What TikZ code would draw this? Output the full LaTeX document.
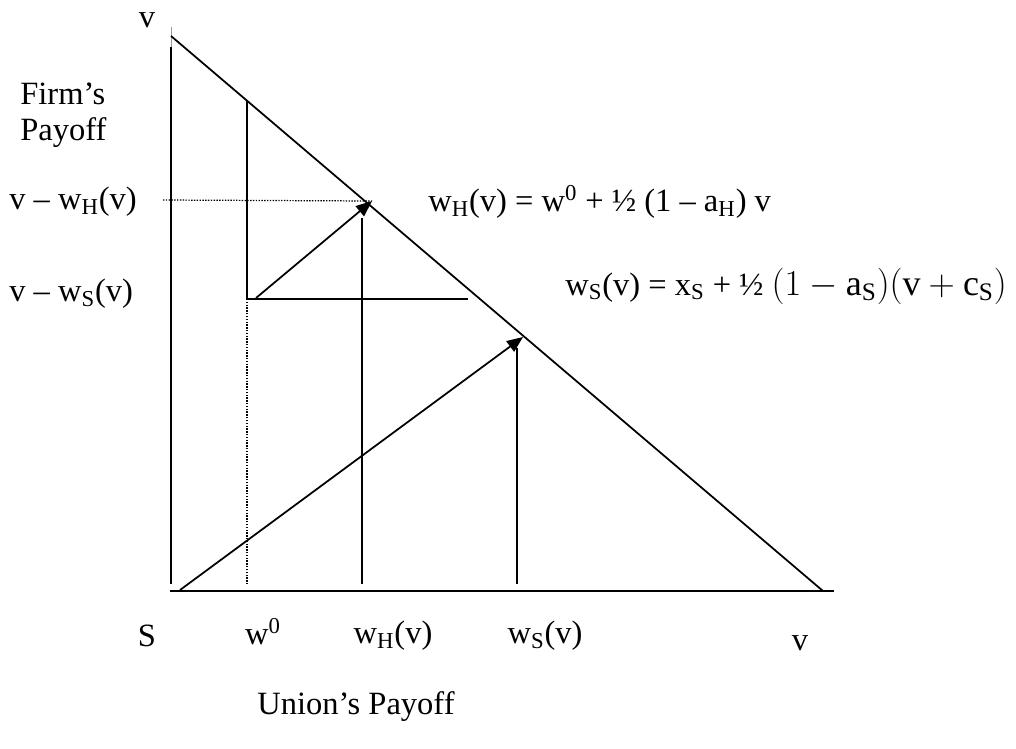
\documentclass[tikz,border=0pt]{standalone}
\usepackage{fontspec}
\setmainfont{Liberation Serif}
\usetikzlibrary{arrows.meta,positioning}

\begin{document}
\begin{tikzpicture}[x=0.02cm, y=-0.02cm,
    ax/.style={line width=1.3pt},
    ln/.style={line width=1pt},
    guide/.style={dash pattern=on 0.8pt off 0.8pt, line width=0.7pt},
    arr/.style={-{Triangle[length=0.32cm, width=0.26cm]}, line width=1pt},
    lbl/.style={font=\fontsize{18.5}{22}\selectfont, inner sep=0pt}
  ]
    \useasboundingbox (0,0) rectangle (1016,748);

    % axes and frontier
    \coordinate (ytop) at (171,47);
    \coordinate (ybot) at (171,584);
    \coordinate (xl) at (170,591);
    \coordinate (xr) at (834,591);
    \coordinate (vy) at (171,36);
    \coordinate (vx) at (823,591);
    \draw[ax] (xl) -- (xr);
    \draw[ln] (ytop) -- (ybot);
    \draw[line width=0.3pt, black!40] (171,27) -- (ytop);
    \draw[ln] (vy) -- (vx);

    % hard-line bargaining box
    \coordinate (hb) at (247,101);
    \coordinate (hc) at (247,299);
    \coordinate (hr) at (468,299);
    \coordinate (w0b) at (247,584);
    \draw[ln] (hb) -- (hc) -- (hr);
    \draw[guide] (hc) -- (w0b);

    \coordinate (hstart) at (256,298);
    \coordinate (htip) at (372,201);
    \coordinate (hdot) at (163,200);
    \coordinate (hv) at (362,218);
    \coordinate (hvb) at (362,584);
    \draw[guide] (hdot) -- (htip);
    \draw[arr] (hstart) -- (htip);
    \draw[ln] (hv) -- (hvb);

    \coordinate (sstart) at (180,590);
    \coordinate (stip) at (523,337);
    \coordinate (sv) at (517,348);
    \coordinate (svb) at (517,584);
    \draw[arr] (sstart) -- (stip);
    \draw[ln] (sv) -- (svb);

    % labels
    \node[lbl] (vtop) at (147,20) {v};
    \node[lbl, anchor=west, align=left, font=\fontsize{18.5}{20.5}\selectfont] (firm) at (20,115) {Firm’s\\Payoff};
    \node[lbl, anchor=west] (vwh) at (9,202) {v – w\textsubscript{H}(v)};
    \node[lbl, anchor=west] (vws) at (9,294) {v – w\textsubscript{S}(v)};
    \node[lbl, anchor=west] (fh) at (428,202) {w\textsubscript{H}(v) = w\textsuperscript{0} + ½ (1 – a\textsubscript{H}) v};
    \node[lbl, anchor=west] (fs) at (565,286) {w\textsubscript{S}(v) = x\textsubscript{S} + ½ {\fontsize{20.5}{24}\selectfont$(1-\mathrm{a}_{\mathrm{S}})(\mathrm{v}+\mathrm{c}_{\mathrm{S}})$}};

    \node[lbl] (s) at (147,636) {S};
    \node[lbl] (w0) at (263,632) {w\textsuperscript{0}};
    \node[lbl] (wh) at (393,636) {w\textsubscript{H}(v)};
    \node[lbl] (ws) at (545,636) {w\textsubscript{S}(v)};
    \node[lbl] (vbot) at (800,643) {v};
    \node[lbl] (union) at (356,707) {Union’s Payoff};
\end{tikzpicture}
\end{document}
